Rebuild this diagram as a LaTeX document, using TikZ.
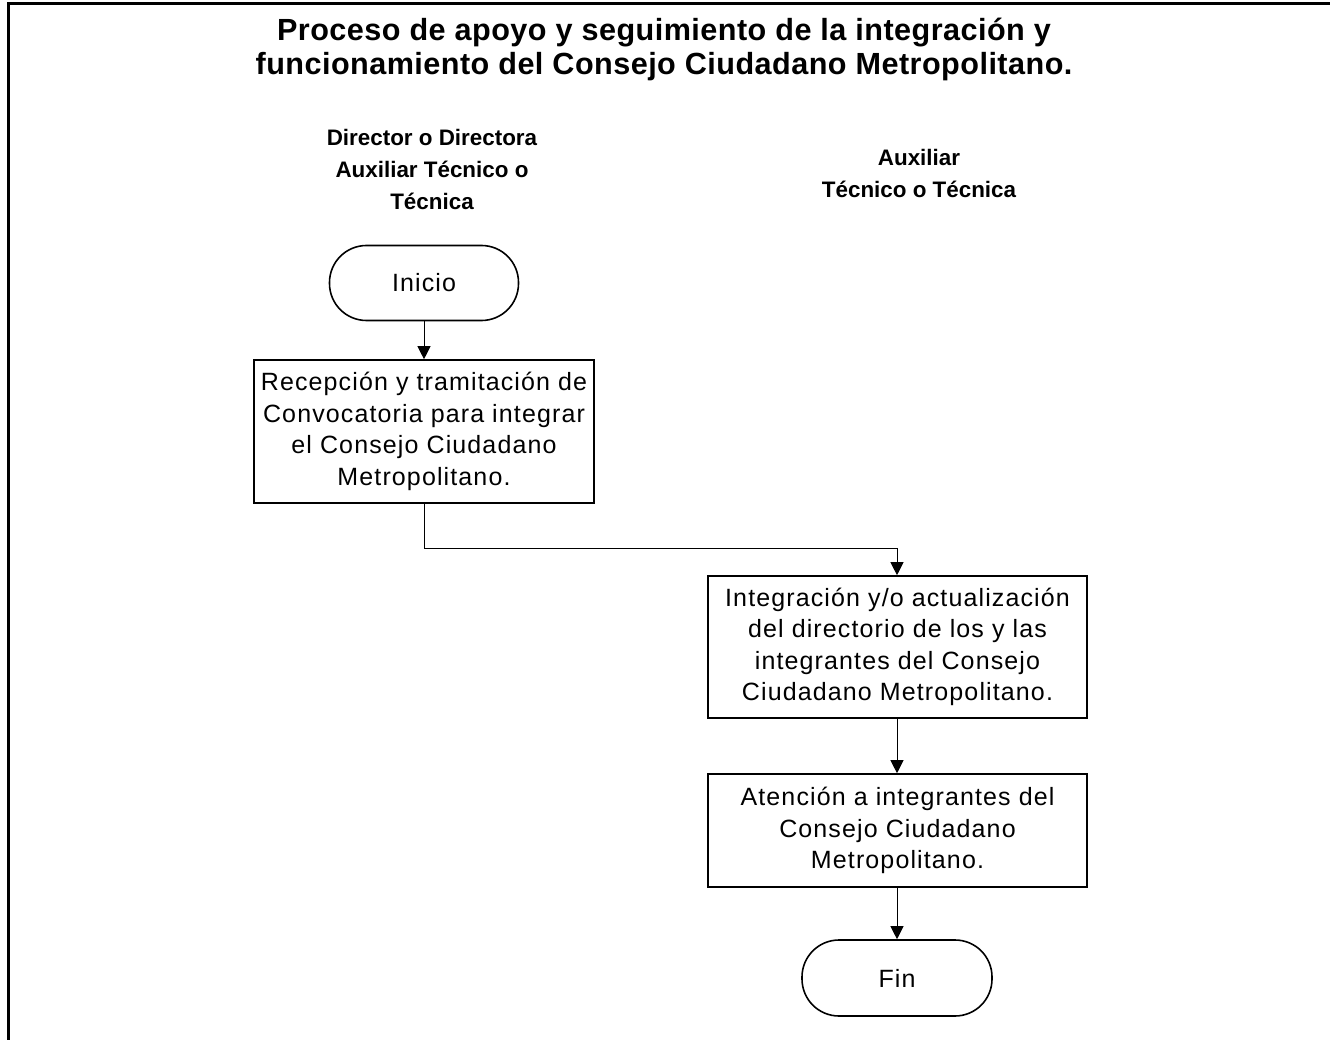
\documentclass[tikz,border=0pt]{standalone}
\usepackage{fontspec}
\setmainfont{Liberation Sans}
\newfontfamily\boxfont[LetterSpace=4.5]{Liberation Sans}
\newfontfamily\titlefont[LetterSpace=1.5]{Liberation Sans}
\usetikzlibrary{arrows.meta}
\begin{document}
\begin{tikzpicture}[x=1pt,y=-1pt,
  flowbox/.style={draw,line width=1.6pt,minimum width=340pt,align=center,inner sep=0pt,
    font=\boxfont\fontsize{25}{31.5}\selectfont},
  termbox/.style={draw,line width=1.6pt,minimum width=189pt,minimum height=75pt,rounded corners=37pt,
    inner sep=0pt,font=\boxfont\fontsize{25}{31.5}\selectfont},
  hdr/.style={align=center,font=\bfseries\fontsize{22.4}{32}\selectfont},
  conn/.style={line width=0.9pt,-{Triangle[length=13pt,width=13pt]}}]
\useasboundingbox (0,0) rectangle (1330,1040);
\draw[line width=3pt] (8,1040) -- (8,4) -- (1330,4);
\node[align=center,font=\titlefont\bfseries\fontsize{30.6}{34}\selectfont] (title) at (664,49)
  {Proceso de apoyo y seguimiento de la integración y\\funcionamiento del Consejo Ciudadano Metropolitano.};
\node[hdr] (h1) at (432,169) {Director o Directora\\Auxiliar Técnico o\\Técnica};
\node[hdr] (h2) at (919,173) {Auxiliar\\Técnico o Técnica};
\node[termbox] (ini) at (424,283) {Inicio};
\node[flowbox,minimum width=340pt,minimum height=143pt] (b1) at (424,431.5)
  {Recepción y tramitación de\\Convocatoria para integrar\\el Consejo Ciudadano\\Metropolitano.};
\node[flowbox,minimum width=379pt,minimum height=142pt] (b2) at (897.5,647)
  {Integración y/o actualización\\del directorio de los y las\\integrantes del Consejo\\Ciudadano Metropolitano.};
\node[flowbox,minimum width=379pt,minimum height=113pt] (b3) at (897.5,830.5)
  {Atención a integrantes del\\Consejo Ciudadano\\Metropolitano.};
\node[termbox,minimum width=190pt,minimum height=76pt] (fin) at (897,978) {Fin};
\coordinate (k1) at (424,548);
\coordinate (k2) at (897,548);
\draw[conn] (ini) -- (b1);
\draw[conn] (b1.south) -- (k1) -- (k2) -- (k2 |- b2.north);
\draw[conn] (b2.south -| fin) -- (b3.north -| fin);
\draw[conn] (b3.south -| fin) -- (fin);
\end{tikzpicture}
\end{document}
